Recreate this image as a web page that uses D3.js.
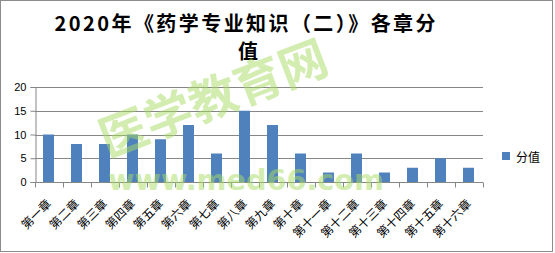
<!DOCTYPE html>
<html>
<head>
<meta charset="utf-8">
<script src="https://cdn.jsdelivr.net/npm/d3@7"></script>
<style>
  body { margin: 0; background: #fff; }
  svg { display: block; font-family: "Noto Sans CJK SC", sans-serif; }
</style>
</head>
<body>
<svg id="chart"></svg>
<script>
// chart data
const chapters = ['第一章', '第二章', '第三章', '第四章', '第五章', '第六章', '第七章', '第八章',
  '第九章', '第十章', '第十一章', '第十二章', '第十三章', '第十四章', '第十五章', '第十六章'];
const scores = [10, 8, 8, 10, 9, 12, 6, 15, 12, 6, 2, 6, 2, 3, 5, 3];
const yTicks = [0, 5, 10, 15, 20];
const seriesName = '分值';
const titleLines = ['2020年《药学专业知识（二）》各章分', '值'];

const width = 555;
const height = 253;
const plot = { left: 35, right: 483, top: 87, bottom: 182 };
const barColor = '#4f81bd';
const gridColor = '#868686';

const svg = d3.select('#chart')
  .attr('width', width)
  .attr('height', height);

// outer frame
svg.append('rect')
  .attr('x', 0.5).attr('y', 0.5)
  .attr('width', 552).attr('height', 251)
  .attr('fill', '#fff')
  .attr('stroke', '#8c8c8c');

// title
const title = svg.append('text')
  .attr('font-weight', 'bold')
  .attr('font-size', 20)
  .attr('text-anchor', 'middle');
title.selectAll('tspan')
  .data(titleLines)
  .enter()
  .append('tspan')
  .attr('x', (d, i) => i === 0 ? 245 : 248)
  .attr('y', (d, i) => 31 + i * 28)
  .attr('textLength', (d, i) => i === 0 ? 381 : null)
  .text(d => d);

// scales
const x = d3.scaleBand()
  .domain(chapters)
  .range([plot.left, plot.right])
  .paddingInner(0.6)
  .paddingOuter(0.3);
const xOuter = d3.scaleBand()
  .domain(chapters)
  .range([plot.left, plot.right]);
const y = d3.scaleLinear()
  .domain([0, 20])
  .range([plot.bottom, plot.top]);

// horizontal gridlines
svg.append('g')
  .selectAll('line')
  .data(yTicks.filter(d => d > 0))
  .enter()
  .append('line')
  .attr('x1', plot.left).attr('x2', plot.right)
  .attr('y1', d => Math.round(y(d)) + 0.5)
  .attr('y2', d => Math.round(y(d)) + 0.5)
  .attr('stroke', gridColor);

// bars
svg.append('g')
  .selectAll('rect')
  .data(scores)
  .enter()
  .append('rect')
  .attr('x', (d, i) => Math.round(x(chapters[i])))
  .attr('y', d => y(d))
  .attr('width', Math.round(x.bandwidth()))
  .attr('height', d => plot.bottom - y(d))
  .attr('fill', barColor);

// y axis
const yAxis = svg.append('g')
  .attr('transform', `translate(${plot.left + 0.5},0)`)
  .call(d3.axisLeft(y).tickValues(yTicks).tickSize(5).tickPadding(4));
yAxis.select('.domain').attr('stroke', gridColor);
yAxis.selectAll('.tick line').attr('stroke', gridColor);
yAxis.selectAll('.tick text')
  .attr('font-size', 11)
  .attr('font-family', 'Liberation Sans, Arial, sans-serif')
  .attr('fill', '#000');

// x axis: ticks at category boundaries
const xAxis = svg.append('g')
  .attr('transform', `translate(0,${plot.bottom + 0.5})`);
xAxis.append('line')
  .attr('x1', plot.left).attr('x2', plot.right)
  .attr('stroke', gridColor);
xAxis.selectAll('line.tick')
  .data(chapters.concat(['end']))
  .enter()
  .append('line')
  .attr('class', 'tick')
  .attr('x1', (d, i) => Math.round(plot.left + i * xOuter.bandwidth()) + 0.5)
  .attr('x2', (d, i) => Math.round(plot.left + i * xOuter.bandwidth()) + 0.5)
  .attr('y1', 0).attr('y2', 5)
  .attr('stroke', gridColor);
xAxis.selectAll('text')
  .data(chapters)
  .enter()
  .append('text')
  .attr('transform', d => `translate(${xOuter(d) + xOuter.bandwidth() / 2 + 3},22) rotate(-45)`)
  .attr('text-anchor', 'end')
  .attr('font-size', 12)
  .text(d => d);

// legend
const legend = svg.append('g').attr('transform', 'translate(502,152)');
legend.append('rect')
  .attr('width', 8).attr('height', 8)
  .attr('fill', barColor);
legend.append('text')
  .attr('x', 14).attr('y', 10)
  .attr('font-size', 12)
  .text(seriesName);

// watermark overlay
const wm = svg.append('g').attr('class', 'watermark')
  .attr('fill', '#a8dc66').attr('opacity', 0.5)
  .style('pointer-events', 'none');
wm.append('text')
  .attr('transform', 'translate(212,95) rotate(-21)')
  .attr('text-anchor', 'middle')
  .attr('dominant-baseline', 'central')
  .attr('font-size', 48)
  .attr('font-weight', 'bold')
  .text('医学教育网');
wm.append('text')
  .attr('x', 108).attr('y', 190)
  .attr('font-family', 'DejaVu Sans, sans-serif')
  .attr('font-weight', 'bold')
  .attr('font-size', 29)
  .attr('textLength', 276)
  .attr('lengthAdjust', 'spacingAndGlyphs')
  .text('www.med66.com');
</script>
</body>
</html>
